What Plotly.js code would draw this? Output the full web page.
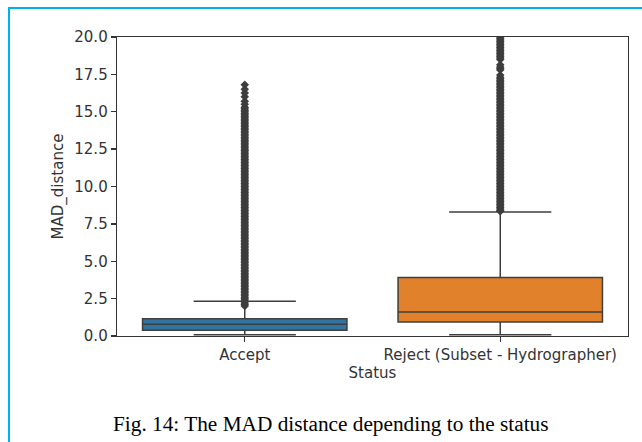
<!DOCTYPE html>
<html>
<head>
<meta charset="utf-8">
<script src="https://cdn.plot.ly/plotly-3.0.1.min.js"></script>
<style>
  html, body { margin: 0; padding: 0; background: #ffffff; }
  #wrap { position: relative; width: 642px; height: 442px; overflow: hidden; }
  #frame { position: absolute; left: 8px; top: 7px; width: 640px; height: 440px;
           border-left: 2px solid #00b0f0; border-top: 2px solid #00b0f0; pointer-events: none; }
  #chart { position: absolute; left: 0; top: 0; width: 642px; height: 442px; }
</style>
</head>
<body>
<div id="wrap">
  <div id="chart"></div>
  <div id="frame"></div>
</div>
<script>
// Categories
var categories = ["Accept", "Reject (Subset - Hydrographer)"];
// Box statistics
var q1Values     = [0.38, 0.94];
var medianValues = [0.78, 1.61];
var q3Values     = [1.16, 3.91];
var lowerFences  = [0.08, 0.08];
var upperFences  = [2.32, 8.30];
var boxColors    = ["#3274a1", "#e1812c"];

// Outliers (dense column of points)
var acceptOutliers = [
  2.0,2.1,2.2,2.3,2.4,2.5,2.6,2.7,2.8,2.9,
  3.0,3.1,3.2,3.3,3.4,3.5,3.6,3.7,3.8,3.9,
  4.0,4.1,4.2,4.3,4.4,4.5,4.6,4.7,4.8,4.9,
  5.0,5.1,5.2,5.3,5.4,5.5,5.6,5.7,5.8,5.9,
  6.0,6.1,6.2,6.3,6.4,6.5,6.6,6.7,6.8,6.9,
  7.0,7.1,7.2,7.3,7.4,7.5,7.6,7.7,7.8,7.9,
  8.0,8.1,8.2,8.3,8.4,8.5,8.6,8.7,8.8,8.9,
  9.0,9.1,9.2,9.3,9.4,9.5,9.6,9.7,9.8,9.9,
  10.0,10.1,10.2,10.3,10.4,10.5,10.6,10.7,10.8,10.9,
  11.0,11.1,11.2,11.3,11.4,11.5,11.6,11.7,11.8,11.9,
  12.0,12.1,12.2,12.3,12.4,12.5,12.6,12.7,12.8,12.9,
  13.0,13.1,13.2,13.3,13.4,13.5,13.6,13.7,13.8,13.9,
  14.0,14.1,14.2,14.3,14.4,14.5,14.6,14.7,14.8,14.9,
  15.0,15.1,15.2,15.3,15.5,15.7,16.0,16.25,16.5,16.8];
var rejectOutliers = [
  8.35,8.4,8.5,8.6,8.7,8.8,8.9,
  9.0,9.1,9.2,9.3,9.4,9.5,9.6,9.7,9.8,9.9,
  10.0,10.1,10.2,10.3,10.4,10.5,10.6,10.7,10.8,10.9,
  11.0,11.1,11.2,11.3,11.4,11.5,11.6,11.7,11.8,11.9,
  12.0,12.1,12.2,12.3,12.4,12.5,12.6,12.7,12.8,12.9,
  13.0,13.1,13.2,13.3,13.4,13.5,13.6,13.7,13.8,13.9,
  14.0,14.1,14.2,14.3,14.4,14.5,14.6,14.7,14.8,14.9,
  15.0,15.1,15.2,15.3,15.4,15.5,15.6,15.7,15.8,15.9,
  16.0,16.1,16.2,16.3,16.4,16.5,16.6,16.7,16.8,16.9,
  17.0,17.1,17.2,17.3,17.45,17.8,17.9,18.0,18.15,
  18.5,18.6,18.7,18.8,18.9,19.0,19.1,19.2,19.3,19.4,
  19.5,19.6,19.7,19.8,19.9,20.0,20.1];
var outlierSets = [acceptOutliers, rejectOutliers];

var axisFont = {family: "DejaVu Sans", size: 15, color: "#333333"};
var lineCol = "#3f3f3f";

var traces = [];
categories.forEach(function(cat, i) {
  traces.push({
    type: "box",
    x: [cat],
    q1: [q1Values[i]],
    median: [medianValues[i]],
    q3: [q3Values[i]],
    lowerfence: [lowerFences[i]],
    upperfence: [upperFences[i]],
    width: 0.8,
    whiskerwidth: 0.5,
    boxpoints: false,
    fillcolor: boxColors[i],
    line: {color: lineCol, width: 1.5},
    showlegend: false,
    hoverinfo: "skip"
  });
});
categories.forEach(function(cat, i) {
  traces.push({
    type: "scatter",
    mode: "markers",
    x: outlierSets[i].map(function() { return cat; }),
    y: outlierSets[i],
    marker: {symbol: "diamond", size: 6.5, color: "#3d3d3d", line: {width: 0}},
    showlegend: false,
    hoverinfo: "skip"
  });
});

var layout = {
  width: 642, height: 442,
  margin: {l: 117, r: 14, t: 37, b: 106},
  paper_bgcolor: "rgba(0,0,0,0)",
  plot_bgcolor: "#ffffff",
  boxmode: "overlay",
  font: axisFont,
  xaxis: {
    type: "category",
    categoryarray: categories,
    range: [-0.5, 1.5],
    showline: true, linecolor: "#333333", linewidth: 1.3, mirror: true,
    ticks: "outside", ticklen: 5, tickwidth: 1.3, tickcolor: "#333333",
    showgrid: false, zeroline: false,
    tickfont: axisFont,
    title: {text: "Status", font: axisFont, standoff: 1}
  },
  yaxis: {
    range: [0, 20],
    tickvals: [0, 2.5, 5, 7.5, 10, 12.5, 15, 17.5, 20],
    ticktext: ["0.0", "2.5", "5.0", "7.5", "10.0", "12.5", "15.0", "17.5", "20.0"],
    showline: true, linecolor: "#333333", linewidth: 1.3, mirror: true,
    ticks: "outside", ticklen: 5, tickwidth: 1.3, tickcolor: "#333333",
    showgrid: false, zeroline: false,
    tickfont: axisFont,
    title: {text: "MAD_distance", font: axisFont, standoff: 7}
  },
  annotations: [{
    xref: "paper", yref: "paper",
    x: -0.0117, y: -0.2943, xanchor: "left", yanchor: "middle",
    text: "Fig. 14: The MAD distance depending to the status",
    showarrow: false,
    font: {family: "Liberation Serif", size: 21.3, color: "#000000"}
  }]
};

Plotly.newPlot("chart", traces, layout, {displayModeBar: false, staticPlot: true});
</script>
</body>
</html>
